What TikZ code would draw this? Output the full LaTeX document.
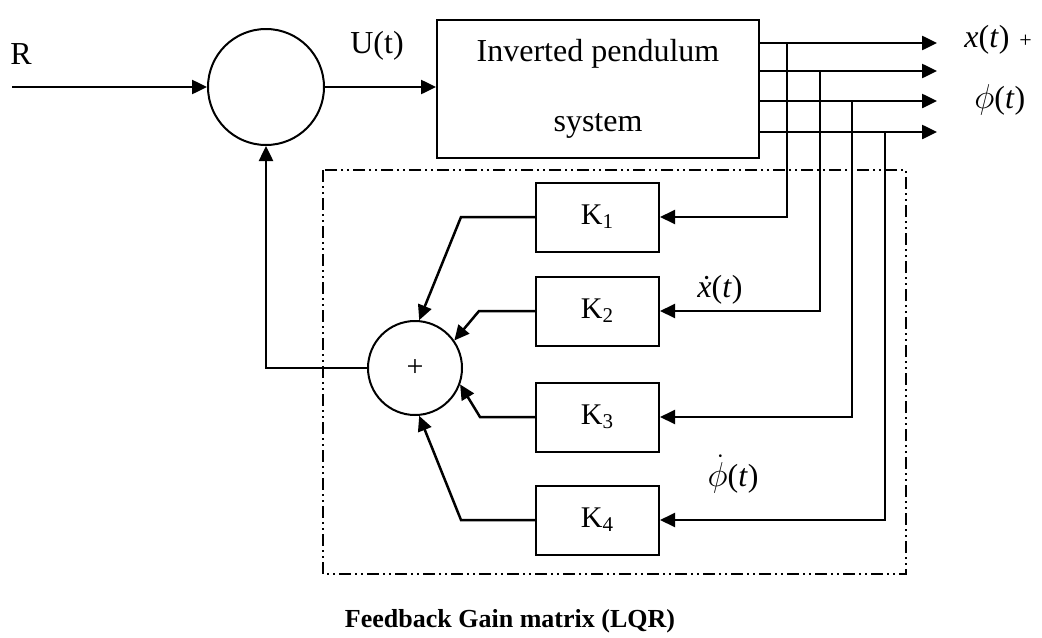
\documentclass[tikz,border=0pt]{standalone}
\usepackage{fontspec}
\setmainfont{Liberation Serif}
\usetikzlibrary{arrows.meta}
\tikzset{
  blk/.style={draw,line width=1pt,fill=white,minimum width=61.5pt,
    minimum height=34.5pt,inner sep=0pt,font=\fontsize{15}{18}\selectfont},
  sumnode/.style={circle,draw,line width=1pt,fill=white,inner sep=0pt},
  arr/.style={line width=1.25pt,-{Triangle[length=7.5pt,width=7pt]}},
  frame/.style={line width=0.8pt,
    dash pattern=on 6pt off 2pt on 1pt off 2pt on 1pt off 2pt},
  lbl/.style={font=\fontsize{16}{19}\selectfont,inner sep=1pt}
}
\begin{document}
\begin{tikzpicture}[x=0.5pt,y=-0.5pt]
  \useasboundingbox (0,0) rectangle (1042,637);
  \draw[frame] (323,170) rectangle (906,574);
  \draw (266,87) node[sumnode,minimum size=58pt] (sumin) {};
  \draw (598,89) node[blk,minimum width=161pt,minimum height=69pt,
    align=center,font=\fontsize{16}{35}\selectfont] (plant)
    {Inverted pendulum\\system};
  \draw (415,368) node[sumnode,minimum size=47pt,
    font=\fontsize{15}{18}\selectfont] (sumk) {+};
  \draw (597.5,217) node[blk] (k1) {K\textsubscript{1}};
  \draw (597.5,311) node[blk] (k2) {K\textsubscript{2}};
  \draw (597.5,417) node[blk] (k3) {K\textsubscript{3}};
  \draw (597.5,520) node[blk] (k4) {K\textsubscript{4}};
  \draw (21,54) node[lbl] (r) {R};
  \draw (377,46) node[lbl,fill=white,inner sep=6pt] (u) {U(t)};
  \draw (962,40) node[lbl,anchor=west] (xout)
    {\textit{x}(\textit{t})\hspace{5pt}{\fontsize{11}{13}\selectfont +}};
  \draw (972,100) node[lbl,anchor=west] (phiout) {$\phi$(\textit{t})};
  \draw (720,290) node[lbl,fill=white] (xdot) {\textit{\.{x}}(\textit{t})};
  \draw (733,474) node[lbl] (phidot) {$\dot{\phi}$(\textit{t})};
  \draw (510,621) node[font=\bfseries\fontsize{13}{16}\selectfont] (gain)
    {Feedback Gain matrix (LQR)};
  \coordinate (rin) at (12,87);
  \draw[arr] (rin) -- (sumin);
  \draw[arr] (sumin) -- (plant.west |- sumin);
  \foreach \y [count=\i] in {43,71,101,132}
    \coordinate (o\i) at (937,\y);
  \foreach \i in {1,...,4}
    \draw[arr] (plant.east |- o\i) -- (o\i);
  \coordinate (t1) at (787,43);
  \coordinate (t2) at (820,71);
  \coordinate (t3) at (852,101);
  \coordinate (t4) at (885,132);
  \foreach \i in {1,...,4}
    \draw[arr,line width=1pt] (t\i) |- (k\i);
  \draw[arr] (k1.west) -- ++(-74,0) -- (sumk.85);
  \draw[arr] (k2.west) -- ++(-56,0) -- (sumk.35);
  \draw[arr] (k3.west) -- ++(-55,0) -- (sumk.-20);
  \draw[arr] (k4.west) -- ++(-74,0) -- (sumk.-85);
  \draw[arr] (sumk.west) -| (sumin.south);
\end{tikzpicture}
\end{document}
